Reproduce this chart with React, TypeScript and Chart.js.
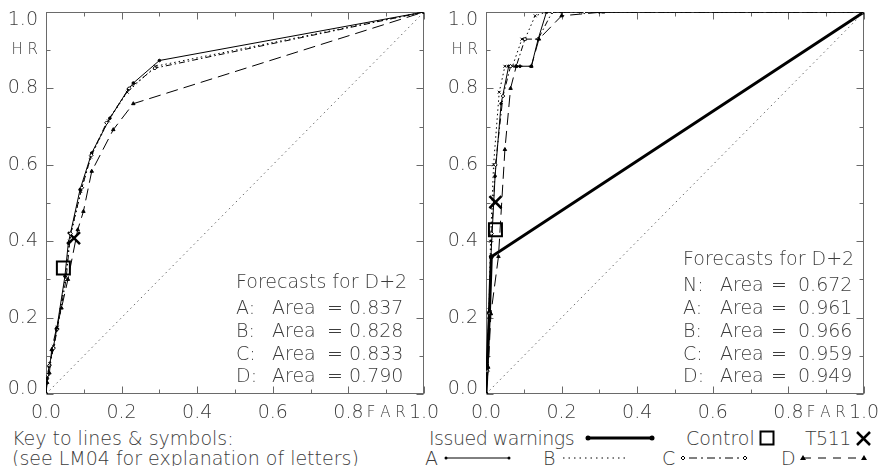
import { useEffect, useRef } from "react";
import { Chart, registerables } from "chart.js";
Chart.register(...registerables);

// ---------- data ----------
const tickValues = [0, 0.1, 0.2, 0.3, 0.4, 0.5, 0.6, 0.7, 0.8, 0.9, 1.0];
const xMidLabel = "F A R";
const yMidLabel = "H R";

// Left panel (all warnings)
const leftAFar = [0, 0.003, 0.008, 0.019, 0.028, 0.05, 0.059, 0.09, 0.121, 0.169, 0.218, 0.231, 0.3, 1.0];
const leftAHr = [0, 0.04, 0.072, 0.12, 0.168, 0.308, 0.395, 0.535, 0.631, 0.722, 0.798, 0.814, 0.873, 1.0];
const leftBFar = [0, 0.004, 0.01, 0.02, 0.03, 0.052, 0.062, 0.092, 0.118, 0.165, 0.215, 0.29, 1.0];
const leftBHr = [0, 0.045, 0.08, 0.125, 0.175, 0.31, 0.4, 0.53, 0.62, 0.715, 0.79, 0.858, 1.0];
const leftCFar = [0, 0.004, 0.009, 0.02, 0.03, 0.053, 0.065, 0.095, 0.12, 0.16, 0.22, 0.288, 1.0];
const leftCHr = [0, 0.05, 0.075, 0.12, 0.17, 0.3, 0.42, 0.54, 0.625, 0.71, 0.8, 0.853, 1.0];
const leftDFar = [0, 0.003, 0.009, 0.015, 0.028, 0.041, 0.058, 0.084, 0.099, 0.121, 0.178, 0.231, 1.0];
const leftDHr = [0, 0.03, 0.055, 0.116, 0.173, 0.225, 0.3, 0.43, 0.478, 0.583, 0.692, 0.76, 1.0];
const leftControl = [0.046, 0.33];
const leftT511 = [0.074, 0.408];
const leftLetters = ["A:", "B:", "C:", "D:"];
const leftAreas = ["0.837", "0.828", "0.833", "0.790"];

// Right panel
const rightNFar = [0, 0.009, 0.014, 1.0];
const rightNHr = [0, 0.212, 0.359, 1.0];
const rightAFar = [0, 0.004, 0.009, 0.013, 0.024, 0.04, 0.06, 0.09, 0.12, 0.138, 0.16, 0.2, 0.3, 1.0];
const rightAHr = [0, 0.07, 0.2, 0.36, 0.57, 0.76, 0.858, 0.858, 0.858, 0.929, 1.0, 1.0, 1.0, 1.0];
const rightBFar = [0, 0.003, 0.008, 0.012, 0.02, 0.035, 0.05, 0.07, 0.095, 0.103, 0.13, 0.16, 0.25, 1.0];
const rightBHr = [0, 0.08, 0.22, 0.4, 0.6, 0.79, 0.858, 0.858, 0.929, 0.929, 0.99, 1.0, 1.0, 1.0];
const rightCFar = [0, 0.004, 0.01, 0.015, 0.025, 0.045, 0.065, 0.08, 0.103, 0.138, 0.175, 0.26, 1.0];
const rightCHr = [0, 0.06, 0.21, 0.42, 0.6, 0.78, 0.858, 0.858, 0.929, 0.929, 1.0, 1.0, 1.0];
const rightDFar = [0, 0.006, 0.013, 0.033, 0.05, 0.065, 0.08, 0.12, 0.14, 0.2, 0.31, 1.0];
const rightDHr = [0, 0.07, 0.21, 0.36, 0.64, 0.8, 0.858, 0.858, 0.929, 0.99, 1.0, 1.0];
const rightControl = [0.025, 0.43];
const rightT511 = [0.025, 0.502];
const rightLetters = ["N:", "A:", "B:", "C:", "D:"];
const rightAreas = ["0.672", "0.961", "0.966", "0.959", "0.949"];

const diagFar = [0, 1];
const diagHr = [0, 1];

// ---------- styling ----------
const FONT = '"DejaVu Sans", sans-serif';
const WEIGHT = 200;
const TEXT = "#3c3c3c";
const AXIS = "#6a6a6a";

const pts = (xs: number[], ys: number[]) => xs.map((x, i) => ({ x, y: ys[i] }));

const framePlugin = {
  id: "frame",
  beforeDatasetsDraw(chart: any) {
    const { ctx, chartArea: a, scales } = chart;
    const xs = scales.x;
    const ys = scales.y;
    ctx.save();
    ctx.strokeStyle = AXIS;
    ctx.lineWidth = 1;
    const L = Math.round(a.left) + 0.5;
    const R = Math.round(a.right) - 0.5;
    const T = Math.round(a.top) + 0.5;
    const B = Math.round(a.bottom) - 0.5;
    ctx.strokeRect(L, T, R - L, B - T);
    ctx.beginPath();
    tickValues.forEach((v, i) => {
      const len = i % 2 === 0 ? 7 : 4;
      const px = Math.round(xs.getPixelForValue(v)) + 0.5;
      ctx.moveTo(px, B);
      ctx.lineTo(px, B - len);
      ctx.moveTo(px, T);
      ctx.lineTo(px, T + len);
      const py = Math.round(ys.getPixelForValue(v)) + 0.5;
      ctx.moveTo(L, py);
      ctx.lineTo(L + len, py);
      ctx.moveTo(R, py);
      ctx.lineTo(R - len, py);
    });
    ctx.stroke();
    ctx.restore();
  },
};

const textPlugin = {
  id: "areaText",
  afterDraw(chart: any, _args: any, opts: any) {
    if (!opts || !opts.letters) return;
    const { ctx } = chart;
    ctx.save();
    ctx.font = `${WEIGHT} 19px ${FONT}`;
    ctx.fillStyle = TEXT;
    ctx.textBaseline = "middle";
    ctx.textAlign = "left";
    ctx.fillText("Forecasts for D+2", opts.cols[0], opts.titleY);
    opts.letters.forEach((l: string, i: number) => {
      const y = opts.rowY + i * opts.rowStep;
      ctx.fillText(l, opts.cols[0], y);
      ctx.fillText("Area", opts.cols[1], y);
      ctx.fillText("=", opts.cols[2], y);
      ctx.fillText(opts.areas[i], opts.cols[3], y);
    });
    ctx.restore();
  },
};

const k10 = (v: number) => Math.round(v * 10);

function makeOptions(textOpts: any) {
  return {
    responsive: false,
    animation: false as const,
    events: [],
    layout: { padding: { top: 12, right: 16, bottom: 0, left: 0 } },
    plugins: {
      legend: { display: false },
      tooltip: { enabled: false },
      areaText: textOpts,
    },
    scales: {
      x: {
        type: "linear",
        min: 0,
        max: 1,
        grid: { display: false, drawTicks: false },
        border: { display: false },
        afterBuildTicks(s: any) {
          s.ticks = tickValues.map((value) => ({ value }));
        },
        afterFit(s: any) {
          s.height = 32;
          s.paddingLeft = 0;
          s.paddingRight = 0;
        },
        ticks: {
          autoSkip: false,
          maxRotation: 0,
          padding: 8,
          color: TEXT,
          callback: (v: number) => {
            const k = k10(v);
            if (k === 9) return xMidLabel;
            if (k % 2 === 0) return (k / 10).toFixed(1);
            return "";
          },
          font: (c: any) => {
            const k = k10(c.tick ? c.tick.value : 0);
            return k === 9
              ? { family: FONT, weight: WEIGHT, size: 15, lineHeight: 22.8 / 15 }
              : { family: FONT, weight: WEIGHT, size: 19, lineHeight: 1.2 };
          },
        },
      },
      y: {
        type: "linear",
        min: 0,
        max: 1,
        grid: { display: false, drawTicks: false },
        border: { display: false },
        afterBuildTicks(s: any) {
          s.ticks = tickValues.map((value) => ({ value }));
        },
        afterFit(s: any) {
          s.width = 46;
          s.paddingTop = 0;
          s.paddingBottom = 0;
        },
        ticks: {
          autoSkip: false,
          padding: 8,
          color: TEXT,
          callback: (v: number) => {
            const k = k10(v);
            if (k === 10) return ["", "1.0"];
            if (k === 0) return ["0.0", ""];
            if (k === 9) return yMidLabel;
            if (k % 2 === 0) return (k / 10).toFixed(1);
            return "";
          },
          font: (c: any) => {
            const k = k10(c.tick ? c.tick.value : 0);
            if (k === 10) return { family: FONT, weight: WEIGHT, size: 19, lineHeight: 0.9 };
            if (k === 0) return { family: FONT, weight: WEIGHT, size: 19, lineHeight: 0.5 };
            if (k === 9) return { family: FONT, weight: WEIGHT, size: 15, lineHeight: 1.2 };
            return { family: FONT, weight: WEIGHT, size: 19, lineHeight: 1.2 };
          },
        },
      },
    },
  };
}

const lineDs = (label: string, xs: number[], ys: number[], extra: any) => ({
  label,
  data: pts(xs, ys),
  showLine: true,
  borderColor: "#000",
  backgroundColor: "#000",
  borderWidth: 1,
  pointRadius: 1.6,
  pointBorderWidth: 1,
  pointBorderColor: "#000",
  pointBackgroundColor: "#000",
  tension: 0,
  ...extra,
});

const diagDs = () => ({
  label: "diag",
  data: pts(diagFar, diagHr),
  showLine: true,
  borderColor: "#666",
  borderWidth: 1,
  borderDash: [1.5, 3.5],
  pointRadius: 0,
});

const markerDs = (label: string, p: number[], style: string, radius: number, width: number) => ({
  label,
  data: [{ x: p[0], y: p[1] }],
  showLine: false,
  pointStyle: style,
  pointRadius: radius,
  pointBorderWidth: width,
  pointBorderColor: "#000",
  pointBackgroundColor: "rgba(0,0,0,0)",
});

const styleA = { pointStyle: "circle", pointRadius: 1.3 };
const styleB = { borderDash: [1.5, 3], pointStyle: "crossRot", pointRadius: 2 };
const styleC = { borderDash: [6, 3, 1.5, 3], pointStyle: "rectRot", pointRadius: 1.8, pointBackgroundColor: "#fff" };
const styleD = { borderDash: [12, 6], pointStyle: "triangle", pointRadius: 2 };

function leftConfig(): any {
  return {
    type: "scatter",
    data: {
      datasets: [
        diagDs(),
        lineDs("D", leftDFar, leftDHr, styleD),
        lineDs("C", leftCFar, leftCHr, styleC),
        lineDs("B", leftBFar, leftBHr, styleB),
        lineDs("A", leftAFar, leftAHr, styleA),
        markerDs("Control", leftControl, "rect", 9.2, 2),
        markerDs("T511", leftT511, "crossRot", 8.5, 2.5),
      ],
    },
    options: makeOptions({
      letters: leftLetters,
      areas: leftAreas,
      cols: [236, 272, 327, 349],
      titleY: 283,
      rowY: 309.5,
      rowStep: 22.6,
    }),
    plugins: [framePlugin, textPlugin],
  };
}

function rightConfig(): any {
  return {
    type: "scatter",
    data: {
      datasets: [
        diagDs(),
        lineDs("D", rightDFar, rightDHr, styleD),
        lineDs("C", rightCFar, rightCHr, styleC),
        lineDs("B", rightBFar, rightBHr, styleB),
        lineDs("A", rightAFar, rightAHr, styleA),
        lineDs("Issued warnings", rightNFar, rightNHr, { borderWidth: 3, pointRadius: 2, pointStyle: "circle" }),
        markerDs("Control", rightControl, "rect", 9.2, 2),
        markerDs("T511", rightT511, "crossRot", 8.5, 2.5),
      ],
    },
    options: makeOptions({
      letters: rightLetters,
      areas: rightAreas,
      cols: [243, 280, 331, 358],
      titleY: 260,
      rowY: 286.5,
      rowStep: 22.7,
    }),
    plugins: [framePlugin, textPlugin],
  };
}

function ChartCanvas({ config, left }: { config: () => any; left: number }) {
  const ref = useRef<HTMLCanvasElement | null>(null);
  useEffect(() => {
    if (!ref.current) return;
    const chart = new Chart(ref.current, config());
    return () => chart.destroy();
  }, [config]);
  return (
    <canvas
      ref={ref}
      width={440}
      height={426}
      style={{ position: "absolute", left, top: 0, width: 440, height: 426 }}
    />
  );
}

const txt = (left: number, top: number, s: string, ls = 0) => (
  <div
    style={{
      position: "absolute",
      left,
      top,
      fontFamily: FONT,
      fontWeight: WEIGHT,
      fontSize: 19,
      lineHeight: "20px",
      letterSpacing: ls,
      color: TEXT,
      whiteSpace: "pre",
    }}
  >
    {s}
  </div>
);

export default function App() {
  const r1 = 427.5;
  const r2 = 447.5;
  const y1 = 438;
  const y2 = 458;
  return (
    <div style={{ position: "absolute", left: 0, top: 0, width: 880, height: 466, background: "#fff", overflow: "hidden" }}>
      <ChartCanvas config={leftConfig} left={0} />
      <ChartCanvas config={rightConfig} left={440} />
      {txt(12, r1, "Key to lines & symbols:")}
      {txt(12, r2, "(see LM04 for explanation of letters)")}
      {txt(429, r1, "Issued warnings", -0.5)}
      {txt(686, r1, "Control")}
      {txt(805, r1, "T511", -0.5)}
      {txt(425, r2, "A")}
      {txt(543, r2, "B")}
      {txt(662, r2, "C")}
      {txt(781, r2, "D")}
      <svg width={880} height={466} style={{ position: "absolute", left: 0, top: 0, pointerEvents: "none" }}>
        {/* Issued warnings */}
        <line x1={587} y1={y1} x2={653} y2={y1} stroke="#000" strokeWidth={3} />
        <circle cx={588} cy={y1} r={2.5} fill="#000" />
        <circle cx={652} cy={y1} r={2.5} fill="#000" />
        {/* Control */}
        <rect x={760.5} y={431.5} width={13} height={13} fill="none" stroke="#000" strokeWidth={2} />
        {/* T511 */}
        <line x1={857} y1={432} x2={870} y2={445} stroke="#000" strokeWidth={2.5} />
        <line x1={857} y1={445} x2={870} y2={432} stroke="#000" strokeWidth={2.5} />
        {/* A */}
        <line x1={445} y1={y2} x2={510} y2={y2} stroke="#000" strokeWidth={1} />
        <circle cx={446} cy={y2} r={1.5} fill="#000" />
        <circle cx={509} cy={y2} r={1.5} fill="#000" />
        {/* B */}
        <line x1={563} y1={y2} x2={627} y2={y2} stroke="#000" strokeWidth={1} strokeDasharray="1.5 4" />
        {/* C */}
        <line x1={683} y1={y2} x2={746} y2={y2} stroke="#000" strokeWidth={1} strokeDasharray="2 4 8 4" />
        <polygon points={`${683},${y2 - 2} ${685},${y2} ${683},${y2 + 2} ${681},${y2}`} fill="#fff" stroke="#000" strokeWidth={1} />
        <polygon points={`${745},${y2 - 2} ${747},${y2} ${745},${y2 + 2} ${743},${y2}`} fill="#fff" stroke="#000" strokeWidth={1} />
        {/* D */}
        <line x1={803} y1={y2} x2={864} y2={y2} stroke="#000" strokeWidth={1} strokeDasharray="8 7" />
        <polygon points={`${803},${y2 - 3} ${806},${y2 + 2} ${800},${y2 + 2}`} fill="#000" />
        <polygon points={`${864},${y2 - 3} ${867},${y2 + 2} ${861},${y2 + 2}`} fill="#000" />
      </svg>
    </div>
  );
}
